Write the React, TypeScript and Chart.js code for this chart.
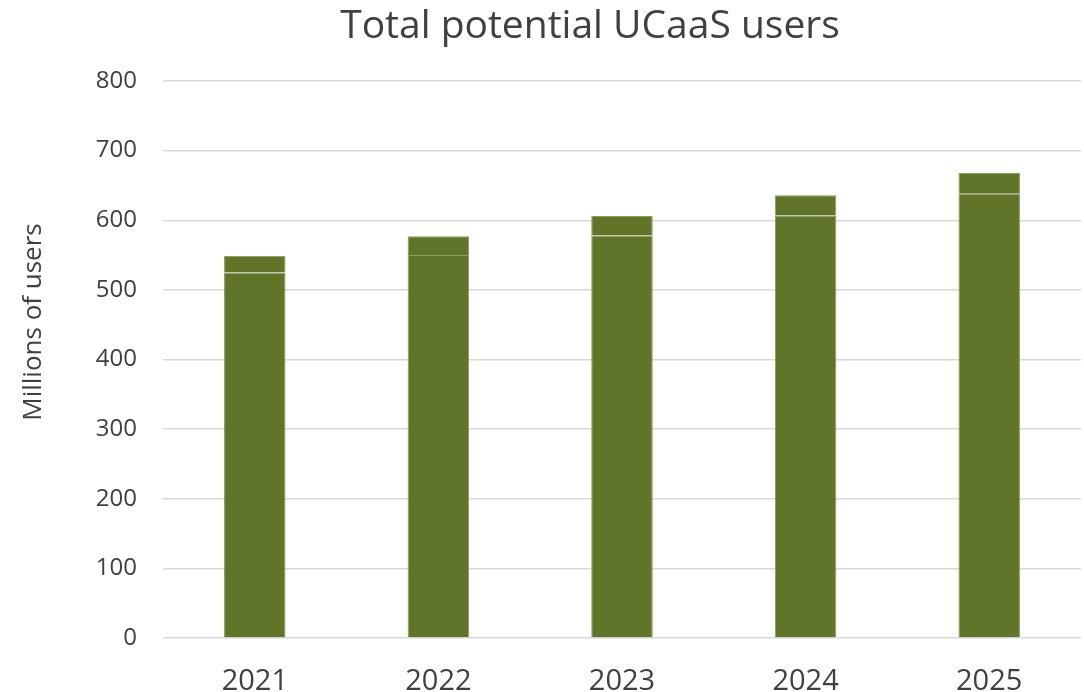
import React, { useEffect, useRef } from "react";
import { Chart, registerables } from "chart.js";

Chart.register(...registerables);

const categories = ["2021", "2022", "2023", "2024", "2025"];
const baseUsers = [525, 550, 578, 607, 638];
const addedUsers = [24, 27, 28, 29, 30];
const yTicks = [0, 100, 200, 300, 400, 500, 600, 700, 800];
const chartTitle = "Total potential UCaaS users";
const yAxisTitle = "Millions of users";

const FONT = "'Open Sans', 'DejaVu Sans', sans-serif";
const TEXT = "#404040";
const BAR = "#61752a";
const BAR_EDGE = "#8a9c58";

const titlesPlugin = {
  id: "customTitles",
  afterDraw(chart: any) {
    const ctx = chart.ctx;
    ctx.save();
    ctx.fillStyle = TEXT;
    ctx.textAlign = "center";
    ctx.textBaseline = "middle";
    ctx.font = `39px ${FONT}`;
    ctx.fillText(chartTitle, 590, 27);
    ctx.translate(34, 322);
    ctx.rotate(-Math.PI / 2);
    ctx.font = `26px ${FONT}`;
    ctx.fillText(yAxisTitle, 0, 0);
    ctx.restore();
  },
};

export default function App() {
  const ref = useRef<HTMLCanvasElement | null>(null);

  useEffect(() => {
    document.body.style.margin = "0";
    const canvas = ref.current;
    if (!canvas) return;
    const chart = new Chart(canvas, {
      type: "bar",
      data: {
        labels: categories,
        datasets: [
          {
            label: "Base",
            data: baseUsers,
            backgroundColor: BAR,
            borderColor: BAR_EDGE,
            borderWidth: 1,
            categoryPercentage: 1,
            barPercentage: 0.335,
          },
          {
            label: "Added",
            data: addedUsers,
            backgroundColor: BAR,
            borderColor: BAR_EDGE,
            borderWidth: 1,
            categoryPercentage: 1,
            barPercentage: 0.335,
          },
        ],
      },
      plugins: [titlesPlugin],
      options: {
        animation: false,
        responsive: false,
        maintainAspectRatio: false,
        layout: { padding: { left: 0, right: 3, top: 81, bottom: 0 } },
        plugins: {
          legend: { display: false },
          tooltip: { enabled: false },
          title: { display: false },
        },
        scales: {
          x: {
            stacked: true,
            grid: { display: false, drawTicks: false },
            border: { display: false },
            ticks: {
              color: TEXT,
              font: { family: FONT, size: 29 },
              padding: 26,
            },
            afterFit: (s: any) => {
              s.height = 54;
            },
          },
          y: {
            stacked: true,
            min: 0,
            max: 800,
            afterBuildTicks: (s: any) => {
              s.ticks = yTicks.map((v) => ({ value: v }));
            },
            grid: { color: "#d9d9d9", lineWidth: 1.5, drawTicks: false },
            border: { display: false },
            ticks: {
              color: TEXT,
              font: { family: FONT, size: 24 },
              padding: 26,
            },
            afterFit: (s: any) => {
              s.width = 163;
            },
          },
        },
      },
    });
    return () => chart.destroy();
  }, []);

  return <canvas ref={ref} width={1084} height={692} style={{ display: "block" }} />;
}
